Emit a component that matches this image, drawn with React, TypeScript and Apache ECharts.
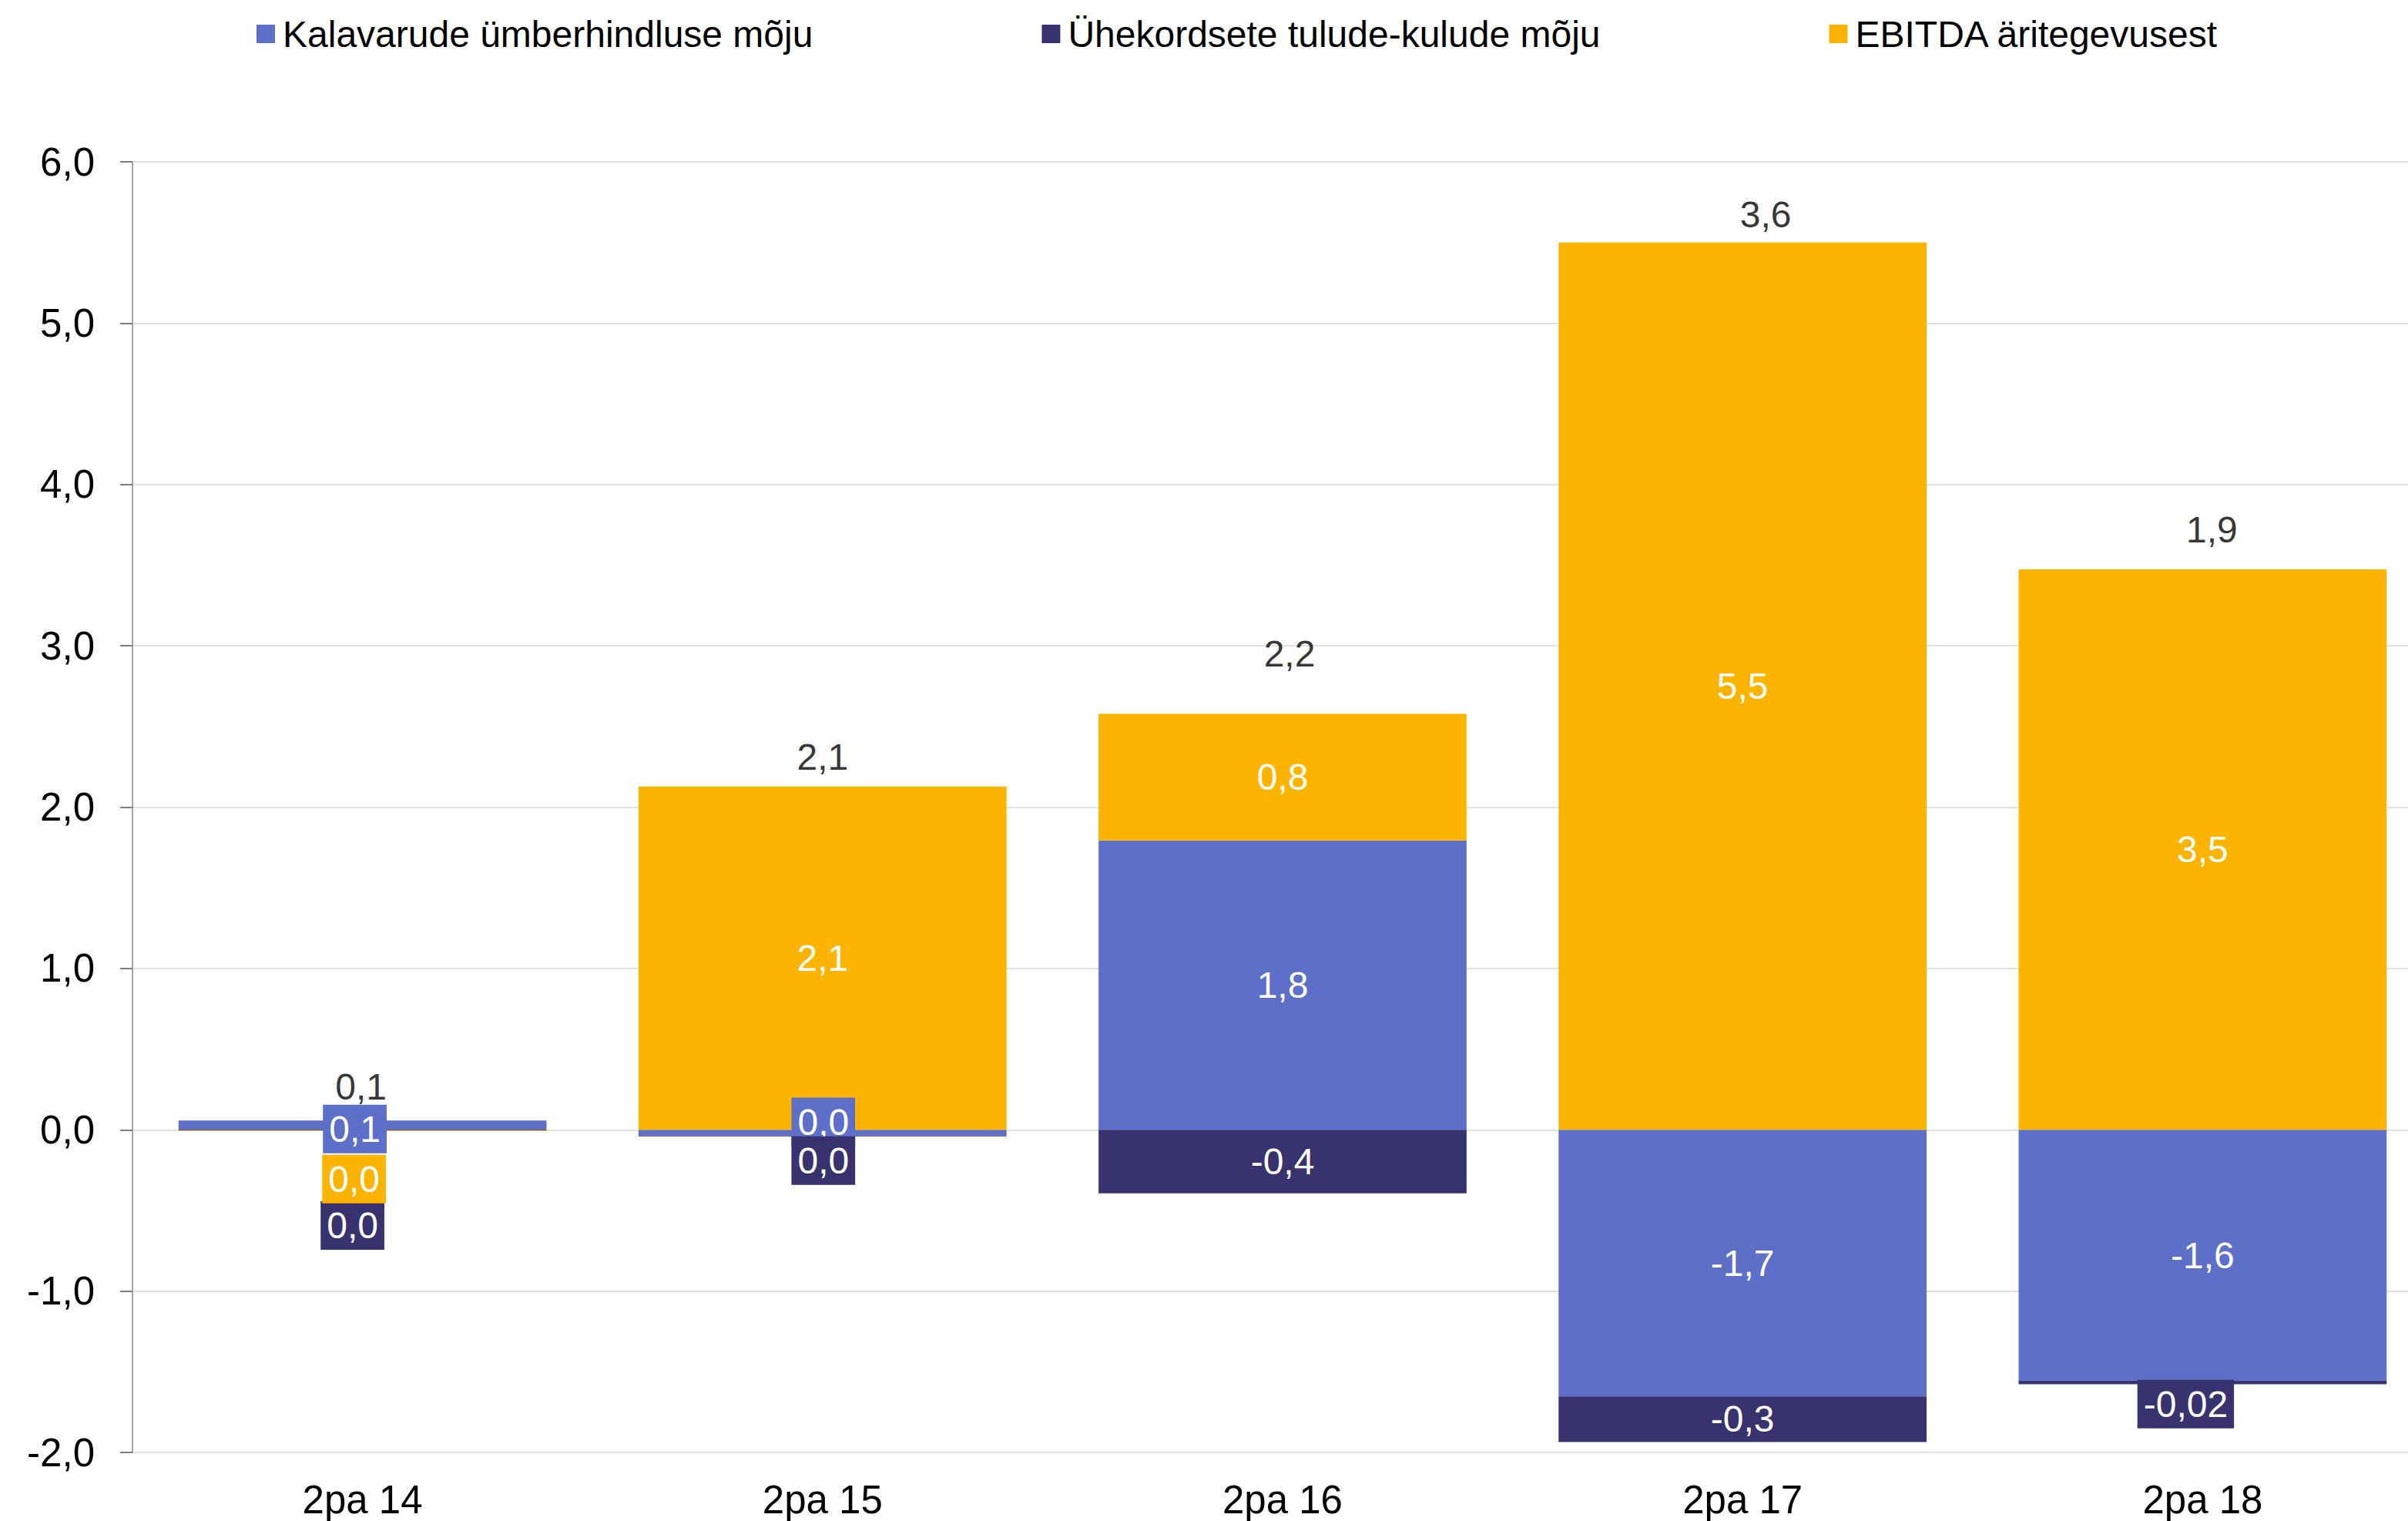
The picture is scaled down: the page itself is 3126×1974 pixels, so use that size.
import React, { useEffect, useRef } from "react";
import * as echarts from "echarts";

// ---- data ----
const categories = ["2pa 14", "2pa 15", "2pa 16", "2pa 17", "2pa 18"];
const seriesNames = [
  "Kalavarude ümberhindluse mõju",
  "Ühekordsete tulude-kulude mõju",
  "EBITDA äritegevusest",
];
const kalavarude = [0.057, -0.036, 1.794, -1.652, -1.555];
const uhekordsete = [-0.003, -0.004, -0.394, -0.284, -0.022];
const ebitda = [-0.004, 2.128, 0.784, 5.5, 3.474];
const kalaLabels = ["0,1", "0,0", "1,8", "-1,7", "-1,6"];
const uheLabels = ["0,0", "0,0", "-0,4", "-0,3", "-0,02"];
const ebitdaLabels = ["0,0", "2,1", "0,8", "5,5", "3,5"];
const totalLabels = ["0,1", "2,1", "2,2", "3,6", "1,9"];
const yMin = -2;
const yMax = 6;
const yInterval = 1;

// ---- layout / style ----
const COLORS = ["#5D6FC8", "#38336F", "#FCB400"];
const FONT = "'Liberation Sans', Arial, sans-serif";
// label offsets for small boxed labels (series index -> data index -> [dx, dy])
const boxedLabelOffsets: Record<number, Record<number, [number, number]>> = {
  0: { 0: [-10, 5], 1: [1, -14] },
  1: { 0: [-13, 124], 1: [1, 32], 4: [-22, 28] },
  2: { 0: [-11, 63] },
};
const totalLabelOffsets: [number, number][] = [
  [-2, -44],
  [0, -38],
  [9, -78],
  [30, -36],
  [12, -51],
];

export default function App() {
  const ref = useRef<HTMLDivElement>(null);
  useEffect(() => {
    document.body.style.margin = "0";
    if (!ref.current) return;
    const chart = echarts.init(ref.current, undefined, { renderer: "svg" });
    const values = [kalavarude, uhekordsete, ebitda];
    const labels = [kalaLabels, uheLabels, ebitdaLabels];

    const barSeries = values.map((arr, si) => ({
      name: seriesNames[si],
      type: "bar",
      stack: "total",
      barWidth: "80%",
      itemStyle: { color: COLORS[si] },
      label: {
        show: true,
        position: "inside",
        color: "#FFFFFF",
        fontSize: 48,
        fontFamily: FONT,
        formatter: (p: any) => labels[si][p.dataIndex],
      },
      data: arr.map((v, i) => {
        const off = boxedLabelOffsets[si] && boxedLabelOffsets[si][i];
        if (!off) return v;
        return {
          value: v,
          label: {
            offset: off,
            backgroundColor: COLORS[si],
            padding: [8, 8, 7, 8],
          },
        };
      }),
      z: 2,
    }));

    const tops = categories.map((_, i) =>
      values.reduce((s, arr) => s + (arr[i] > 0 ? arr[i] : 0), 0)
    );

    const totalSeries = {
      name: "Kokku",
      type: "scatter",
      symbolSize: 1,
      silent: true,
      itemStyle: { color: "rgba(0,0,0,0)" },
      z: 5,
      label: {
        show: true,
        position: "inside",
        color: "#000000",
        fontSize: 48,
        fontFamily: FONT,
        formatter: (p: any) => totalLabels[p.dataIndex],
      },
      data: tops.map((t, i) => ({
        value: [categories[i], t],
        label: { offset: totalLabelOffsets[i] },
      })),
    };

    chart.setOption({
      animation: false,
      backgroundColor: "#FFFFFF",
      textStyle: { fontFamily: FONT },
      legend: {
        data: seriesNames,
        left: 328,
        top: 15,
        itemWidth: 24,
        itemHeight: 24,
        itemGap: 297,
        icon: "rect",
        textStyle: {
          fontSize: 48,
          color: "#000000",
          fontFamily: FONT,
          padding: [0, 0, 0, 5],
        },
      },
      grid: {
        left: 172,
        width: 2986,
        top: 210,
        bottom: 89,
        containLabel: false,
        outerBoundsMode: "none",
      },
      xAxis: {
        type: "category",
        data: categories,
        position: "bottom",
        axisLine: { show: false, onZero: false },
        axisTick: { show: false },
        axisLabel: {
          fontSize: 51,
          color: "#000000",
          fontFamily: FONT,
          margin: 36,
        },
      },
      yAxis: {
        type: "value",
        min: yMin,
        max: yMax,
        interval: yInterval,
        axisLine: { show: true, lineStyle: { color: "#A6A6A6", width: 2 } },
        axisTick: {
          show: true,
          inside: false,
          length: 16,
          lineStyle: { color: "#7F7F7F", width: 2 },
        },
        splitLine: { show: true, lineStyle: { color: "#D9D9D9", width: 1.5 } },
        axisLabel: {
          fontSize: 51,
          color: "#000000",
          fontFamily: FONT,
          margin: 49,
          formatter: (v: number) => v.toFixed(1).replace(".", ","),
        },
      },
      series: [...barSeries, totalSeries],
    });
    return () => chart.dispose();
  }, []);
  return (
    <div
      ref={ref}
      style={{ position: "absolute", left: 0, top: 0, width: 3126, height: 1974, overflow: "hidden" }}
    />
  );
}
